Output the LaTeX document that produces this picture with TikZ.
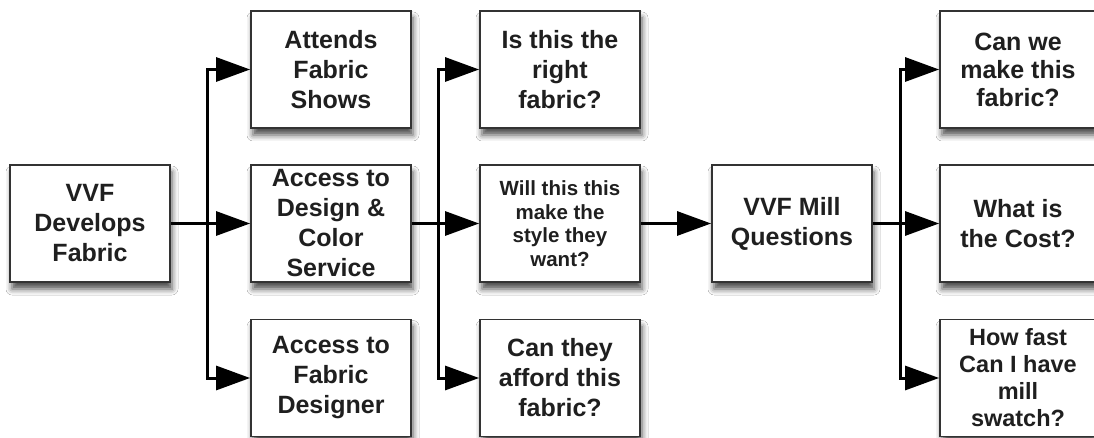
\documentclass[tikz,border=0pt]{standalone}
\usepackage{fontspec}
\setmainfont{Liberation Sans}
\usetikzlibrary{arrows.meta,shadows.blur}
\begin{document}
\begin{tikzpicture}[x=1pt,y=-1pt,
  box/.style={draw=black!80, line width=1.8pt, fill=white,
    minimum width=160pt, minimum height=117pt, align=center, inner sep=0pt,
    font=\bfseries\fontsize{25}{30}\selectfont, text=black!88,
    blur shadow={shadow xshift=2pt, shadow yshift=-7pt, shadow blur radius=6pt, shadow opacity=70}},
  small/.style={font=\bfseries\fontsize{20.5}{23.5}\selectfont},
  mid/.style={font=\bfseries\fontsize{23.5}{27}\selectfont},
  ln/.style={line width=3pt, draw=black},
  arr/.style={line width=3pt, draw=black, -{Triangle[length=34pt,width=24pt]}}]
\useasboundingbox (0,0) rectangle (1094,438);
\fill[white] (0,0) rectangle (1094,438);
\clip (0,0) rectangle (1094,438);

\node[box] (vvf) at (90,223.5) {VVF\\Develops\\Fabric};
\node[box] (a1) at (331,69.5) {Attends\\Fabric\\Shows};
\node[box] (a2) at (331,223.5) {Access to\\Design \&\\Color\\Service};
\node[box] (a3) at (331,378) {Access to\\Fabric\\Designer};
\node[box] (q1) at (560,69.5) {Is this the\\right\\fabric?};
\node[box, small] (q2) at (560,223.5) {Will this this\\make the\\style they\\want?};
\node[box] (q3) at (560,378) {Can they\\afford this\\fabric?};
\node[box] (mill) at (792,223.5) {VVF Mill\\Questions};
\node[box, minimum width=156pt, font=\bfseries\fontsize{25}{28}\selectfont] (c1) at (1018,69.5) {Can we\\make this\\fabric?};
\node[box, minimum width=156pt] (c2) at (1018,223.5) {What is\\the Cost?};
\node[box, minimum width=156pt, mid] (c3) at (1018,378) {How fast\\Can I have\\mill\\swatch?};

\coordinate (j1) at (207,223.5);
\coordinate (j2) at (438,223.5);
\coordinate (j3) at (900,223.5);

\draw[ln] (vvf.east) -- (j1);
\draw[arr] (j1) |- (a1.west);
\draw[arr] (j1) -- (a2.west);
\draw[arr] (j1) |- (a3.west);

\draw[ln] (a2.east) -- (j2);
\draw[arr] (j2) |- (q1.west);
\draw[arr] (j2) -- (q2.west);
\draw[arr] (j2) |- (q3.west);

\draw[arr] (q2.east) -- (mill.west);

\draw[ln] (mill.east) -- (j3);
\draw[arr] (j3) |- (c1.west);
\draw[arr] (j3) -- (c2.west);
\draw[arr] (j3) |- (c3.west);
\end{tikzpicture}
\end{document}
